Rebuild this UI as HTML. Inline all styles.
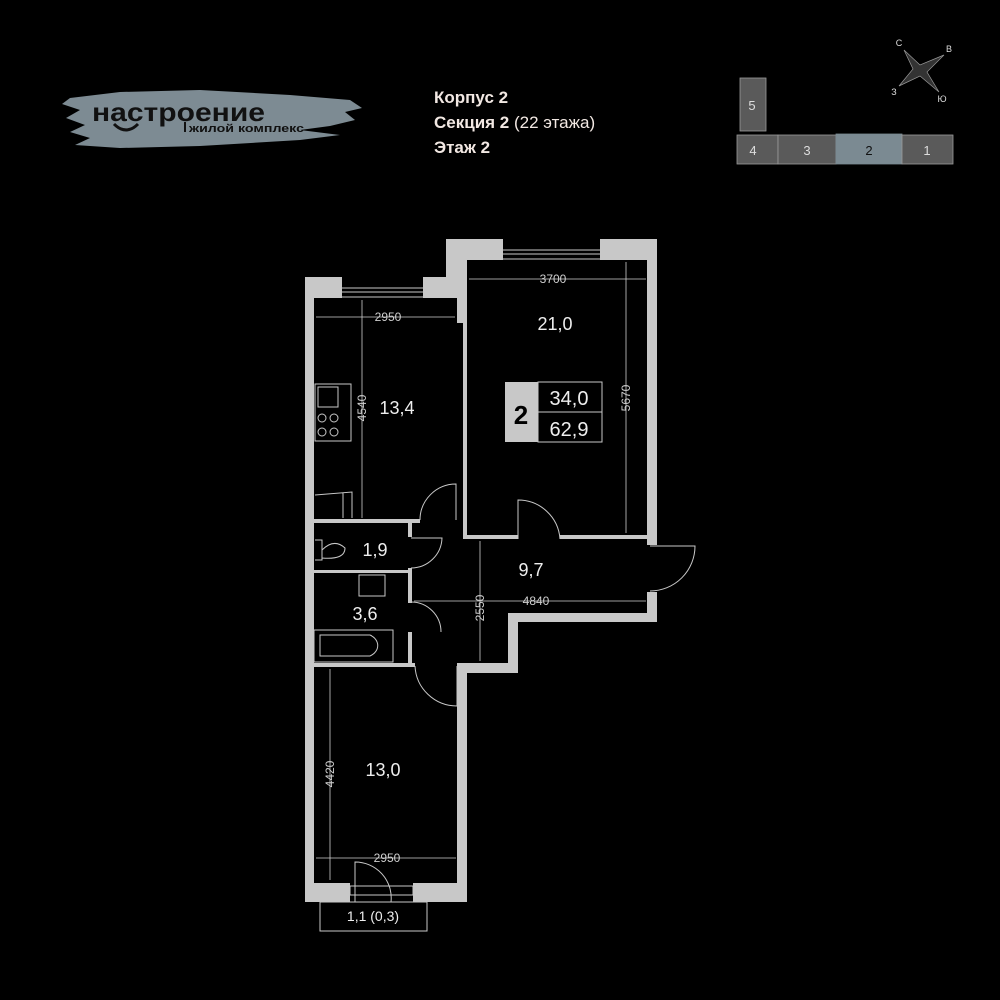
<!DOCTYPE html>
<html><head><meta charset="utf-8"><style>
html,body{margin:0;padding:0;background:#000;}
svg{display:block}
text{font-family:"Liberation Sans","DejaVu Sans",sans-serif;}
</style></head><body>
<svg width="1000" height="1000" viewBox="0 0 1000 1000" xmlns="http://www.w3.org/2000/svg">
<rect width="1000" height="1000" fill="#000"/>
<!-- Logo -->
<path d="M70 98 L120 92 L200 90 L290 95 L350 100 L362 108 L345 112 L355 120 L330 126 L300 130 L340 135 L300 140 L200 146 L120 148 L75 145 L90 138 L70 132 L85 125 L66 118 L80 110 L62 104 Z" fill="#7d8b93"/>
<text x="92" y="121" font-size="26" font-weight="bold" fill="#111" textLength="173" lengthAdjust="spacingAndGlyphs">настроение</text>
<path d="M114 124 Q126 136 138 124" stroke="#111" stroke-width="3" fill="none"/>
<text x="189" y="132" font-size="11" font-weight="bold" fill="#111" textLength="115" lengthAdjust="spacingAndGlyphs">жилой комплекс</text>
<line x1="185" y1="122" x2="185" y2="132" stroke="#111" stroke-width="2"/>
<!-- Header -->
<g fill="#f2e8e3" font-size="17">
<text x="434" y="103" font-weight="bold">Корпус 2</text>
<text x="434" y="128"><tspan font-weight="bold">Секция 2</tspan> (22 этажа)</text>
<text x="434" y="153" font-weight="bold">Этаж 2</text>
</g>
<!-- Keyplan -->
<g stroke="#9a9a9a" stroke-width="0.8">
<rect x="740" y="78" width="26" height="53" fill="#5a5a5a"/>
<rect x="737" y="135" width="41" height="29" fill="#5a5a5a"/>
<rect x="778" y="135" width="58" height="29" fill="#5a5a5a"/>
<rect x="836" y="134" width="66" height="30" fill="#7b8a92" stroke="#7b8a92"/>
<rect x="902" y="135" width="51" height="29" fill="#5a5a5a"/>
</g>
<g fill="#ddd" font-size="13" text-anchor="middle">
<text x="752" y="110">5</text><text x="753" y="155">4</text><text x="807" y="155">3</text>
<text x="869" y="155" fill="#111">2</text><text x="927" y="155">1</text>
</g>
<path d="M904 50 L920 65 L944 55 L927 72 L939 92 L920 76 L899 86 L913 69 Z" fill="#333" stroke="#999" stroke-width="0.7"/>
<g fill="#ddd" font-size="9" text-anchor="middle">
<text x="899" y="46">С</text><text x="949" y="52">В</text><text x="894" y="95">З</text><text x="942" y="102">Ю</text>
</g>
<!-- Walls -->
<g fill="#c8c8c8">
<rect x="305" y="277" width="9" height="625"/>
<rect x="305" y="277" width="37" height="21"/>
<rect x="423" y="277" width="23" height="21"/>
<rect x="457" y="298" width="10" height="25"/>
<rect x="446" y="239" width="21" height="59"/>
<rect x="446" y="239" width="57" height="21"/>
<rect x="600" y="239" width="57" height="21"/>
<rect x="647" y="239" width="10" height="306"/>
<rect x="463" y="535" width="55" height="4"/>
<rect x="560" y="535" width="90" height="4"/>
<rect x="463" y="323" width="4" height="215"/>
<rect x="647" y="592" width="10" height="30"/>
<rect x="508" y="613" width="149" height="9"/>
<rect x="508" y="613" width="10" height="57"/>
<rect x="457" y="663" width="61" height="10"/>
<rect x="457" y="663" width="10" height="239"/>
<rect x="305" y="883" width="45" height="19"/>
<rect x="413" y="883" width="54" height="19"/>
<rect x="314" y="519" width="106" height="4"/>
<rect x="408" y="519" width="4" height="18"/>
<rect x="408" y="568" width="4" height="35"/>
<rect x="314" y="570" width="98" height="3"/>
<rect x="408" y="632" width="4" height="35"/>
<rect x="314" y="663" width="101" height="4"/>
</g>
<!-- Windows -->
<g fill="none" stroke="#c8c8c8" stroke-width="1">
<rect x="340" y="288" width="86" height="9"/><line x1="340" y1="292" x2="426" y2="292"/>
<rect x="500" y="250" width="103" height="9"/><line x1="500" y1="254" x2="603" y2="254"/>
<rect x="350" y="886" width="63" height="9"/>
<rect x="320" y="902" width="107" height="29"/>
<path d="M456 520 L456 484 A36 36 0 0 0 420 520"/>
<path d="M518 539 L518 500 A42 42 0 0 1 560 539"/>
<path d="M650 546 L695 546 A45 45 0 0 1 650 591"/>
<path d="M411 538 L442 538 A31 31 0 0 1 411 568"/>
<path d="M411 602 A30 30 0 0 1 441 632"/>
<path d="M415 666 A42 42 0 0 0 457 706 L457 666"/>
<path d="M355 902 L355 862 A36 36 0 0 1 391 902"/>
<rect x="315" y="384" width="36" height="57"/>
<rect x="318" y="387" width="20" height="20"/>
<circle cx="322" cy="418" r="4"/><circle cx="334" cy="418" r="4"/>
<circle cx="322" cy="432" r="4"/><circle cx="334" cy="432" r="4"/>
<path d="M315 495 L352 492 L352 518 M343 493 L343 518"/>
<path d="M315 540 L322 540 L322 560 L315 560 M322 550 Q334 538 345 548 Q345 560 322 558"/>
<rect x="359" y="575" width="26" height="21"/>
<rect x="314" y="630" width="79" height="32"/>
<path d="M320 635 L370 635 A15 12 0 0 1 370 656 L320 656 Z"/>
</g>
<!-- dimension lines -->
<g stroke="#cfcfcf" stroke-width="0.8" fill="#cfcfcf">
<line x1="316" y1="317" x2="455" y2="317"/>
<line x1="362" y1="300" x2="362" y2="518"/>
<line x1="469" y1="279" x2="646" y2="279"/>
<line x1="626" y1="262" x2="626" y2="533"/>
<line x1="414" y1="601" x2="646" y2="601"/>
<line x1="480" y1="541" x2="480" y2="661"/>
<line x1="330" y1="669" x2="330" y2="880"/>
<line x1="316" y1="858" x2="456" y2="858"/>
</g>
<g fill="#cfcfcf" font-size="12" text-anchor="middle">
<text x="388" y="321">2950</text>
<text x="553" y="283">3700</text>
<text transform="translate(630 398) rotate(-90)">5670</text>
<text transform="translate(366 408) rotate(-90)">4540</text>
<text x="536" y="605">4840</text>
<text transform="translate(484 608) rotate(-90)">2550</text>
<text transform="translate(334 774) rotate(-90)">4420</text>
<text x="387" y="862">2950</text>
</g>
<g fill="#eee" font-size="18" text-anchor="middle">
<text x="397" y="414">13,4</text>
<text x="555" y="330">21,0</text>
<text x="375" y="556">1,9</text>
<text x="531" y="576">9,7</text>
<text x="365" y="620">3,6</text>
<text x="383" y="776">13,0</text>
<text x="373" y="921" font-size="14">1,1 (0,3)</text>
</g>
<rect x="505" y="382" width="33" height="60" fill="#c8c8c8"/>
<rect x="538" y="382" width="64" height="60" fill="#000" stroke="#c8c8c8" stroke-width="1"/>
<line x1="538" y1="412" x2="602" y2="412" stroke="#c8c8c8"/>
<text x="521" y="424" font-size="26" font-weight="bold" text-anchor="middle" fill="#000">2</text>
<text x="569" y="405" font-size="20" text-anchor="middle" fill="#eee">34,0</text>
<text x="569" y="436" font-size="20" text-anchor="middle" fill="#eee">62,9</text>
</svg>
</body></html>
